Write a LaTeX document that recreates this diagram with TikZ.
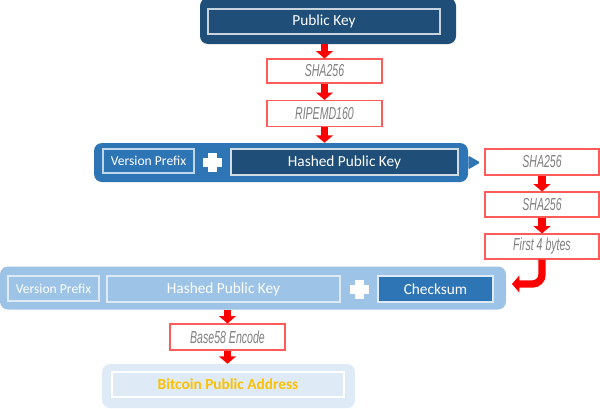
\documentclass[tikz,border=0pt]{standalone}
\usepackage{fontspec}
\setmainfont{Carlito}
\newfontfamily\hashfont[FakeStretch=0.61]{Liberation Sans}
\usetikzlibrary{arrows.meta}
\definecolor{dblue}{HTML}{1F4E79}
\definecolor{mblue}{HTML}{2E75B6}
\definecolor{lblue}{HTML}{9DC3E6}
\definecolor{xblue}{HTML}{DEEBF7}
\definecolor{boxred}{HTML}{FF5B5B}
\definecolor{arrred}{HTML}{FF0000}
\definecolor{txtgray}{HTML}{7F7F7F}
\definecolor{gold}{HTML}{FFC000}
\tikzset{
  sz/.style 2 args={minimum width=#1*0.75pt, minimum height=#2*0.75pt, inner sep=0pt},
  bar/.style={rounded corners=6pt, draw=none},
  hashbox/.style={draw=boxred, line width=0.8pt, fill=white, text=txtgray, font=\hashfont\itshape\fontsize{13}{14}\selectfont},
  redarrow/.style={draw=arrred, line width=5.5pt, -{Triangle[width=12.5pt,length=5.5pt]}, arrred},
  plus/.style={fill=white},
}
\begin{document}
\begin{tikzpicture}[x=0.75pt,y=-0.75pt]
\useasboundingbox (0,0) rectangle (600,408);
% top: public key
\node[bar, fill=dblue, sz={256}{46}] (pkout) at (328,21) {};
\node[draw=white!75!dblue, line width=0.8pt, sz={232}{25}, text=white, font=\fontsize{11.5}{13}\selectfont] (pk) at (324,21.5) {Public Key};
\node[hashbox, sz={115}{24}] (sha1) at (324.5,71) {SHA256};
\node[hashbox, sz={115}{26}] (ripe) at (324.5,113.5) {RIPEMD160};
% middle bar
\node[bar, fill=mblue, sz={374}{39}] (midbar) at (281,162.5) {};
\node[draw=white!70!mblue, line width=0.8pt, sz={91}{24}, text=white, font=\fontsize{10.2}{11}\selectfont] (vp1) at (148.5,161) {Version Prefix};
\node[draw=white!80!dblue, line width=0.8pt, fill=dblue, sz={227}{26}, text=white, font=\fontsize{11.5}{13}\selectfont] (hpk1) at (344.5,162) {Hashed Public Key};
\coordinate (p1) at (212.5,162.5);
\fill[plus] ([xshift=-9.5*0.75pt,yshift=-4.5*0.75pt]p1) rectangle ([xshift=9.5*0.75pt,yshift=4.5*0.75pt]p1);
\fill[plus] ([xshift=-4.5*0.75pt,yshift=-9.5*0.75pt]p1) rectangle ([xshift=4.5*0.75pt,yshift=9.5*0.75pt]p1);
% right column
\node[hashbox, sz={114}{26}] (sha2) at (542,162) {SHA256};
\node[hashbox, sz={114}{25}] (sha3) at (542,204.5) {SHA256};
\node[hashbox, sz={114}{25}] (first4) at (542,246.5) {First 4 bytes};
\fill[mblue, rounded corners=1pt] ([yshift=7*0.75pt]midbar.east) -- ([xshift=12*0.75pt]midbar.east) -- ([yshift=-7*0.75pt]midbar.east) -- cycle;
% lower bar
\node[bar, fill=lblue, sz={506}{43}] (lowbar) at (253,288) {};
\node[draw=xblue, line width=0.8pt, sz={91}{25}, text=white, font=\fontsize{10.2}{11}\selectfont] (vp2) at (53.5,288.5) {Version Prefix};
\node[draw=xblue, line width=0.8pt, sz={233}{26}, text=white, font=\fontsize{11.5}{13}\selectfont] (hpk2) at (223.5,289) {Hashed Public Key};
\node[draw=xblue, line width=0.8pt, fill=mblue, sz={115}{26}, text=white, font=\fontsize{11.5}{13}\selectfont] (chk) at (435.5,289) {Checksum};
\coordinate (p2) at (359,289);
\fill[plus] ([xshift=-9.5*0.75pt,yshift=-4.5*0.75pt]p2) rectangle ([xshift=9.5*0.75pt,yshift=4.5*0.75pt]p2);
\fill[plus] ([xshift=-4.5*0.75pt,yshift=-9.5*0.75pt]p2) rectangle ([xshift=4.5*0.75pt,yshift=9.5*0.75pt]p2);
% bottom
\node[hashbox, sz={115}{26}] (b58) at (227.5,337) {Base58 Encode};
\node[bar, fill=xblue, sz={253}{44}] (addrout) at (228.5,386) {};
\node[draw=white, line width=0.8pt, sz={232}{25}, text=gold, font=\bfseries\fontsize{11.5}{13}\selectfont] (addr) at (228,384.5) {Bitcoin Public Address};
% arrows
\draw[redarrow] (pkout.south -| sha1.north) -- (sha1.north);
\draw[redarrow] (sha1) -- (ripe);
\draw[redarrow] (ripe.south) -- (ripe.south |- midbar.north);
\draw[redarrow] (sha2) -- (sha3);
\draw[redarrow] (sha3) -- (first4);
\coordinate (c1) at (512,284);
\draw[redarrow, rounded corners=7pt] (first4.south) |- (c1);
\draw[redarrow] (lowbar.south -| b58.north) -- (b58.north);
\draw[redarrow] (b58.south) -- (b58.south |- addrout.north);
\end{tikzpicture}
\end{document}
